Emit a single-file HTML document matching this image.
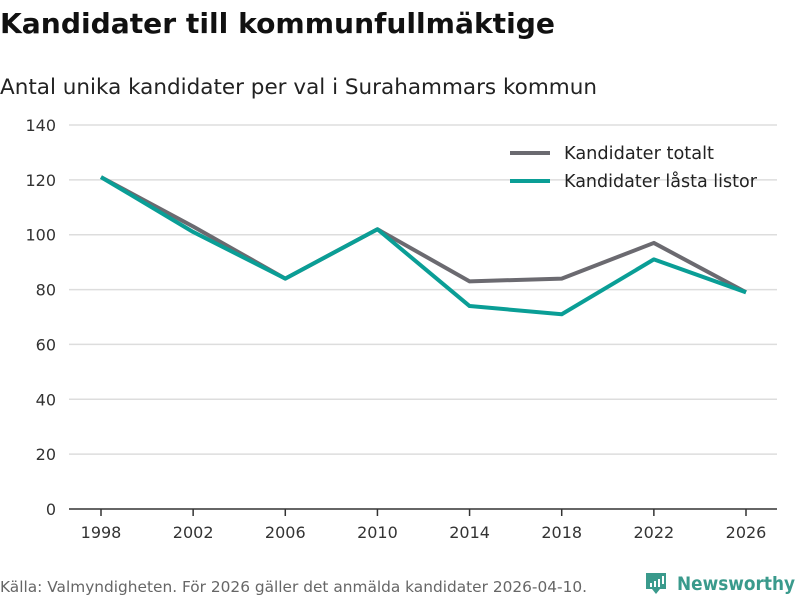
<!DOCTYPE html>
<html><head><meta charset="utf-8"><style>
body{margin:0;background:#fff;width:800px;height:600px;overflow:hidden;font-family:"DejaVu Sans","Liberation Sans",sans-serif}
</style></head><body>
<svg id="c" width="800" height="600" xmlns="http://www.w3.org/2000/svg">
<text x="0" y="33" font-size="28" font-weight="bold" fill="#111" textLength="555" lengthAdjust="spacingAndGlyphs">Kandidater till kommunfullmäktige</text>
<text x="0" y="94" font-size="21.5" fill="#222" textLength="597" lengthAdjust="spacingAndGlyphs">Antal unika kandidater per val i Surahammars kommun</text>
<g id="grid"></g><g id="series"></g>
<g>
<line x1="510" y1="153" x2="550" y2="153" stroke="#6b6a70" stroke-width="4"/>
<text x="564" y="159" font-size="17.5" fill="#222" textLength="150" lengthAdjust="spacingAndGlyphs">Kandidater totalt</text>
<line x1="510" y1="181" x2="550" y2="181" stroke="#0a9e96" stroke-width="4"/>
<text x="564" y="187" font-size="17.5" fill="#222" textLength="193" lengthAdjust="spacingAndGlyphs">Kandidater låsta listor</text>
</g>
<text x="0" y="592" font-size="15.5" fill="#666" textLength="587" lengthAdjust="spacingAndGlyphs">Källa: Valmyndigheten. För 2026 gäller det anmälda kandidater 2026-04-10.</text>
<g>
<path d="M646 573 h20 v16 h-6 l-4 5 l-4 -5 h-6 z" fill="#3a9a8c"/>
<rect x="650" y="583" width="2" height="4" fill="#fff"/><rect x="654" y="581" width="2" height="6" fill="#fff"/><rect x="658" y="579" width="2" height="8" fill="#fff"/><rect x="662" y="576" width="2" height="8" fill="#fff"/>
<text x="677" y="590" font-size="19" font-weight="bold" fill="#3a9a8c" textLength="118" lengthAdjust="spacingAndGlyphs">Newsworthy</text>
</g>
</svg>
<script>
const years=[1998,2002,2006,2010,2014,2018,2022,2026];
const totalt=[121,103,84,102,83,84,97,79];
const lasta=[121,101,84,102,74,71,91,79];
const yTicks=[0,20,40,60,80,100,120,140];
const NS="http://www.w3.org/2000/svg";
const xS=y=>101+(y-1998)*(746-101)/28;
const yS=v=>509-v*(384/140);
const grid=document.getElementById('grid');
yTicks.forEach(t=>{
 const l=document.createElementNS(NS,'line');
 l.setAttribute('x1',69);l.setAttribute('x2',777);l.setAttribute('y1',yS(t));l.setAttribute('y2',yS(t));
 l.setAttribute('stroke',t===0?'#333':'#ddd');l.setAttribute('stroke-width',1.5);
 
 
 grid.appendChild(l);
 const tx=document.createElementNS(NS,'text');
 tx.setAttribute('x',56);tx.setAttribute('y',yS(t)+6);tx.setAttribute('text-anchor','end');
 tx.setAttribute('font-size',16);tx.setAttribute('fill','#333');tx.textContent=t;
 
 
 grid.appendChild(tx);
});
years.forEach(y=>{
 const l=document.createElementNS(NS,'line');
 l.setAttribute('x1',xS(y));l.setAttribute('x2',xS(y));l.setAttribute('y1',509);l.setAttribute('y2',516);
 l.setAttribute('stroke','#333');l.setAttribute('stroke-width',1.5);
 
 
 grid.appendChild(l);
 const tx=document.createElementNS(NS,'text');
 tx.setAttribute('x',xS(y));tx.setAttribute('y',538);tx.setAttribute('text-anchor','middle');
 tx.setAttribute('font-size',16);tx.setAttribute('fill','#333');tx.textContent=y;
 
 
 grid.appendChild(tx);
});
const sg=document.getElementById('series');
[[totalt,'#6b6a70','line-totalt'],[lasta,'#0a9e96','line-lasta']].forEach(([d,c,n])=>{
 const p=document.createElementNS(NS,'polyline');
 p.setAttribute('points',d.map((v,i)=>xS(years[i])+','+yS(v)).join(' '));
 p.setAttribute('fill','none');p.setAttribute('stroke',c);p.setAttribute('stroke-width',4);
 p.setAttribute('stroke-linejoin','round');
 
 
 sg.appendChild(p);
});
</script>
</body></html>
